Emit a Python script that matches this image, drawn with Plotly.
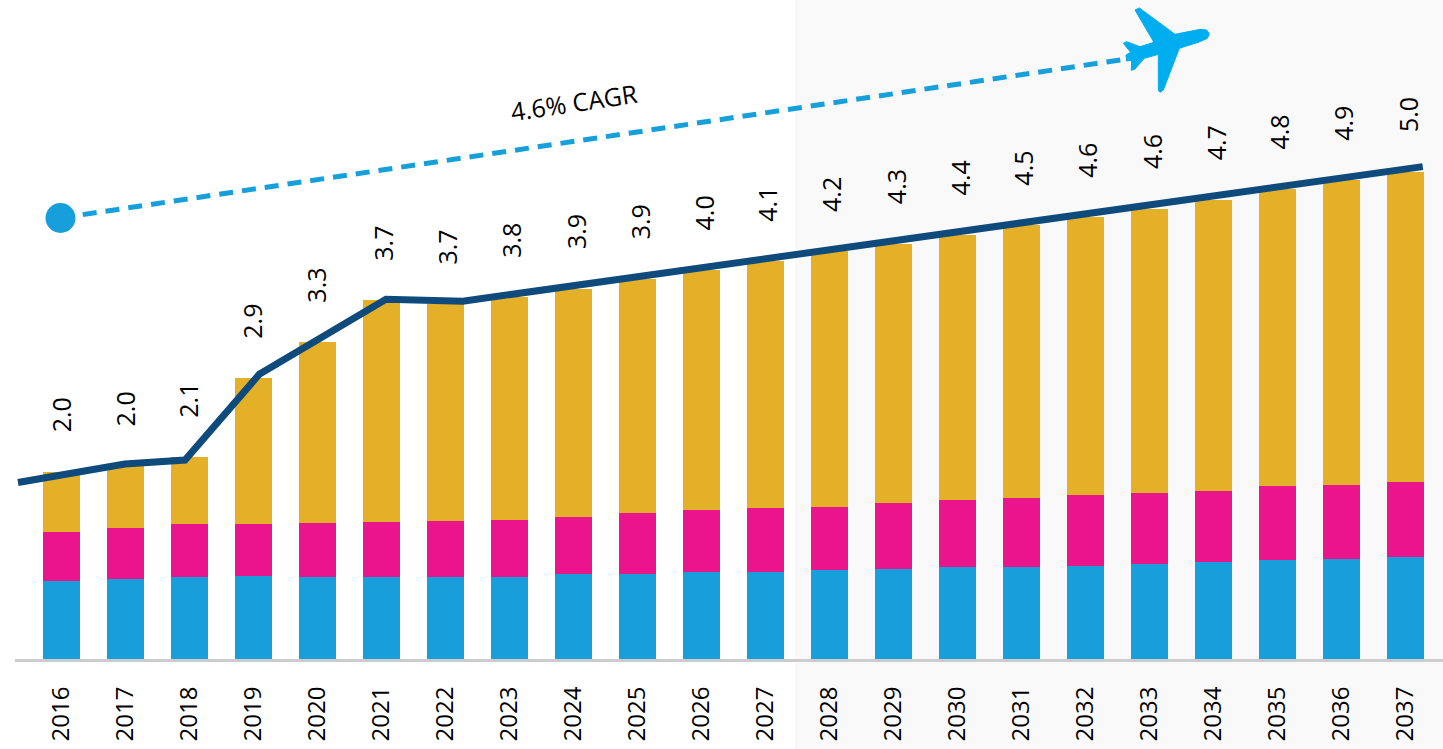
import plotly.graph_objects as go

years = list(range(2016, 2038))
blue = [.80,.82,.84,.85,.84,.84,.84,.84,.87,.87,.89,.89,.91,.92,.94,.94,.95,.97,.99,1.02,1.03,1.05]
magenta = [.50,.52,.54,.53,.55,.57,.58,.59,.59,.63,.64,.66,.65,.68,.69,.71,.73,.73,.73,.75,.75,.77]
gold = [.62,.64,.69,1.50,1.86,2.27,2.22,2.28,2.34,2.40,2.46,2.53,2.62,2.66,2.72,2.80,2.85,2.92,2.99,3.05,3.13,3.18]
labels = ["2.0","2.0","2.1","2.9","3.3","3.7","3.7","3.8","3.9","3.9","4.0","4.1","4.2","4.3","4.4","4.5","4.6","4.6","4.7","4.8","4.9","5.0"]
line_x = [2015.32, 2016.99, 2017.93, 2019.09, 2021.07, 2022.27, 2037.27]
line_y = [1.81, 2.00, 2.04, 2.92, 3.69, 3.67, 5.05]
cagr_text = "4.6% CAGR"

W, H, PLOT_H = 1443, 749, 659
FONT = "Open Sans"
BLUE, MAGENTA, GOLD, NAVY, SKY = "#169fdb", "#ea148c", "#e4b027", "#0e4a7c", "#00aeef"

def px(x): return x / W
def py(y): return 1 - y / PLOT_H

fig = go.Figure()
for vals, col in ((blue, BLUE), (magenta, MAGENTA), (gold, GOLD)):
    fig.add_bar(x=years, y=vals, marker=dict(color=col, line_width=0), width=37/64)
fig.add_scatter(x=line_x, y=line_y, mode="lines", line=dict(color=NAVY, width=7), cliponaxis=False)

annotations = []
for i, yr in enumerate(years):
    total = blue[i] + magenta[i] + gold[i]
    annotations.append(dict(x=yr, y=total, text=labels[i], showarrow=False, textangle=-90,
                            xshift=2 if i >= 5 else -1, yshift=57, xanchor="center", yanchor="middle",
                            font=dict(family=FONT, size=25, color="#000")))
annotations.append(dict(xref="paper", yref="paper", x=px(574), y=py(102), text=cagr_text, showarrow=False,
                        textangle=-8.5, xanchor="center", yanchor="middle",
                        font=dict(family=FONT, size=25, color="#000")))

plane = [(105,30),(118,24),(225,103),(300,88),(320,90),(328,102),(322,115),(300,125),(238,145),
         (190,270),(180,277),(175,270),(175,163),(133,175),(105,207),(94,211),(95,180),(80,183),
         (78,165),(92,157),(70,130),(80,125),(120,140),(162,127)]
plane_path = "M " + " L ".join(f"{px(1100+a/3):.5f},{py(b/3):.5f}" for a, b in plane) + " Z"

shapes = [
    dict(type="rect", xref="paper", yref="paper", x0=px(795), x1=1, y0=py(0), y1=py(749),
         fillcolor="#f9f9f9", line_width=0, layer="below"),
    dict(type="line", xref="paper", yref="paper", x0=px(15), x1=1, y0=py(660.5), y1=py(660.5),
         line=dict(color="#cccccc", width=3), layer="above"),
    dict(type="line", xref="paper", yref="paper", x0=px(60), y0=py(218), x1=px(1140), y1=py(57),
         line=dict(color=BLUE, width=5, dash="14px,9px")),
    dict(type="circle", xref="paper", yref="paper", x0=px(45.5), x1=px(75.5), y0=py(203), y1=py(233),
         fillcolor=BLUE, line_width=0),
    dict(type="path", xref="paper", yref="paper", path=plane_path, fillcolor=SKY,
         line=dict(color=SKY, width=1)),
]

fig.update_layout(
    width=W, height=H, margin=dict(l=0, r=0, t=0, b=H-PLOT_H, pad=0), autosize=False,
    barmode="stack", showlegend=False, paper_bgcolor="rgba(0,0,0,0)", plot_bgcolor="rgba(0,0,0,0)",
    annotations=annotations, shapes=shapes,
    xaxis=dict(range=[2016-61.5/64, 2016+(W-61.5)/64], tickmode="array", tickvals=years,
               ticktext=[str(y) for y in years], tickangle=-90, showgrid=False, zeroline=False,
               ticks="outside", ticklen=17, tickcolor="rgba(0,0,0,0)",
               tickfont=dict(family=FONT, size=24, color="#000")),
    yaxis=dict(range=[0, PLOT_H/97.5], visible=False),
)
fig.write_html("out.html", config=dict(displayModeBar=False),
               post_script="document.body.style.margin='0';document.body.style.overflow='hidden';")
